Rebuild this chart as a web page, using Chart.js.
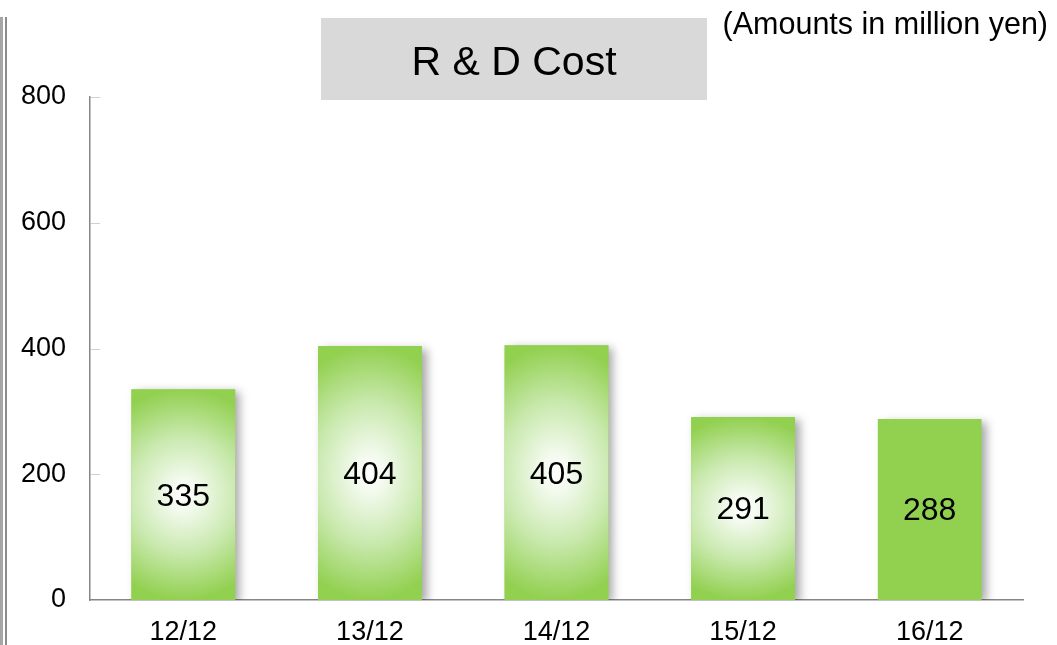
<!DOCTYPE html>
<html lang="en">
<head>
    <meta charset="UTF-8">
    <title>R &amp; D Cost</title>
    <style>
        body {
            background: #fff;
            padding: 0;
            margin: 0;
        }

        .canvas-wrap {
            width: 1057px;
            height: 645px;
            position: relative;
        }
    </style>
</head>
<body>
    <div class="canvas-wrap">
        <canvas id="canvas1" width="1057" height="645"></canvas>
    </div>

    <script src="https://cdn.jsdelivr.net/npm/chart.js@4/dist/chart.umd.min.js"></script>
    <script>
    var years = ['12/12', '13/12', '14/12', '15/12', '16/12'];
    var costs = [335, 404, 405, 291, 288];
    var yTicks = [0, 200, 400, 600, 800];
    // bars filled with the white-centre gradient (last one stays flat)
    var shaded = [true, true, true, true, false];

    (function(){
        'use strict';

        var FONT = 'Arial, "Liberation Sans", sans-serif';
        var GREEN = '#92d050';
        var ctx = document.getElementById('canvas1').getContext('2d');

        // gray frame, title box and unit note
        var decor = {
            id: 'decor',
            beforeDraw: function(chart) {
                var c = chart.ctx;
                c.save();
                c.fillStyle = '#a6a6a6';
                c.fillRect(0, 17, 3, 628);
                c.fillStyle = '#8c8c8c';
                c.fillRect(5, 17, 2, 628);
                c.fillStyle = '#d9d9d9';
                c.fillRect(321, 18, 386, 82);
                c.restore();
            },
            afterDraw: function(chart) {
                var c = chart.ctx;
                c.save();
                c.fillStyle = '#000';
                c.textBaseline = 'alphabetic';
                c.textAlign = 'center';
                c.font = '41px ' + FONT;
                c.fillText('R & D Cost', 514, 75);
                c.textAlign = 'right';
                c.font = '30.5px ' + FONT;
                c.fillText('(Amounts in million yen)', 1048, 34);

                // short inside ticks on the value axis
                var y = chart.scales.y;
                c.strokeStyle = '#d0d0d0';
                c.lineWidth = 1;
                y.ticks.forEach(function(t) {
                    if (t.value === 0) return;
                    var py = Math.round(y.getPixelForValue(t.value)) + 0.5;
                    c.beginPath();
                    c.moveTo(y.right + 1, py);
                    c.lineTo(y.right + 10, py);
                    c.stroke();
                });
                c.restore();
            }
        };

        // soft drop shadow under the bars, then gradient + value text
        var barDress = {
            id: 'barDress',
            beforeDatasetDraw: function(chart) {
                var c = chart.ctx;
                c.save();
                c.shadowColor = 'rgba(0,0,0,0.35)';
                c.shadowBlur = 9;
                c.shadowOffsetX = 5;
                c.shadowOffsetY = 3;
            },
            afterDatasetDraw: function(chart, args) {
                var c = chart.ctx;
                c.restore();
                var meta = args.meta;

                meta.data.forEach(function(bar, i) {
                    var p = bar.getProps(['x', 'y', 'base', 'width'], true);
                    var left = p.x - p.width / 2;
                    var top = Math.min(p.y, p.base);
                    var h = Math.abs(p.base - p.y);
                    var cy = top + h / 2;

                    if (shaded[i]) {
                        c.save();
                        c.beginPath();
                        c.rect(left, top, p.width, h);
                        c.clip();
                        var ry = h / 2;
                        var rx = p.width / 2 * 1.9;
                        c.translate(p.x, cy);
                        c.scale(rx / ry, 1);
                        var g = c.createRadialGradient(0, 0, 0, 0, 0, ry);
                        g.addColorStop(0, '#ffffff');
                        g.addColorStop(0.15, '#f3faee');
                        g.addColorStop(0.55, '#c9e9ae');
                        g.addColorStop(1, GREEN);
                        c.fillStyle = g;
                        c.fillRect(-ry, -ry, 2 * ry, 2 * ry);
                        c.restore();
                    }

                    c.save();
                    c.fillStyle = '#000';
                    c.font = '32px ' + FONT;
                    c.textAlign = 'center';
                    c.textBaseline = 'middle';
                    c.fillText(String(costs[i]), p.x, cy + 2);
                    c.restore();
                });
            }
        };

        var chart = new Chart(ctx, {
            type: 'bar',
            data: {
                labels: years,
                datasets: [{
                    data: costs,
                    backgroundColor: GREEN,
                    borderWidth: 0,
                    categoryPercentage: 1,
                    barPercentage: 0.556
                }]
            },
            options: {
                responsive: false,
                animation: false,
                events: [],
                layout: {
                    padding: { top: 97, right: 34, left: 0, bottom: 0 }
                },
                plugins: {
                    legend: { display: false },
                    tooltip: { enabled: false }
                },
                scales: {
                    x: {
                        grid: { display: false, drawTicks: false },
                        border: { display: true, color: '#868686', width: 1.5 },
                        ticks: {
                            color: '#000',
                            padding: 16,
                            font: { family: FONT, size: 27 }
                        },
                        afterFit: function(s) { s.height = 45; }
                    },
                    y: {
                        min: 0,
                        max: 800,
                        grid: { display: false, drawTicks: false },
                        border: { display: true, color: '#868686', width: 1.5 },
                        afterBuildTicks: function(s) {
                            s.ticks = yTicks.map(function(v) { return { value: v }; });
                        },
                        ticks: {
                            color: '#000',
                            padding: 24,
                            font: { family: FONT, size: 27 }
                        },
                        afterFit: function(s) { s.width = 90; }
                    }
                }
            },
            plugins: [decor, barDress]
        });
    })();
    </script>
</body>
</html>
